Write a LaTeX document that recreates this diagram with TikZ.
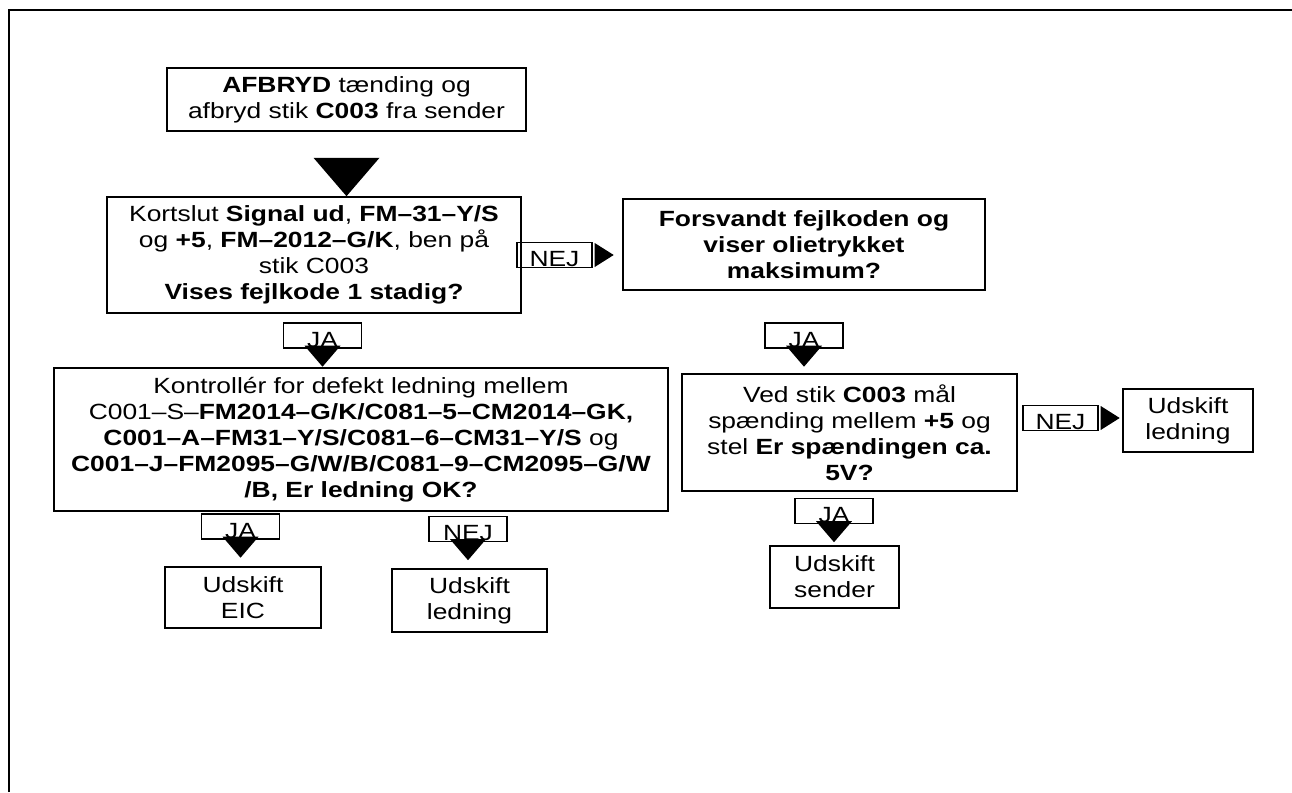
\documentclass[tikz,border=0pt]{standalone}
\usepackage{fontspec}
\setmainfont{Liberation Sans}[FakeStretch=1.2]
\usetikzlibrary{positioning, calc}
\tikzset{
  box/.style 2 args={draw, line width=1.6pt, align=center, inner sep=0pt,
    minimum width=#1, minimum height=#2},
  tag/.style={draw, line width=1.4pt, minimum width=78pt, minimum height=25pt,
    inner xsep=0pt, inner ysep=1pt, text height=23pt, text depth=0pt},
  tri/.style={fill=black},
}

\begin{document}
\begin{tikzpicture}[x=1pt, y=-1pt, font=\fontsize{22}{26}\selectfont]
    \useasboundingbox (0,0) rectangle (1292,792);
    % frame
    \draw[line width=1.6pt] (9,792) -- (9,10) -- (1292,10);

    % steps
    \node[box={359}{63}] (afbryd) at (346.5,99.5)
      {\textbf{AFBRYD} tænding og\\afbryd stik \textbf{C003} fra sender};
    \node[box={414}{116}] (kortslut) at (314,255)
      {Kortslut \textbf{Signal ud}, \textbf{FM–31–Y/S}\\og \textbf{+5}, \textbf{FM–2012–G/K}, ben på\\stik C003\\\textbf{Vises fejlkode 1 stadig?}};
    \node[box={362}{91}, font=\fontsize{22}{26}\selectfont\bfseries] (forsvandt) at (804,244.5)
      {Forsvandt fejlkoden og\\viser olietrykket\\maksimum?};
    \node[box={614}{143}] (kontrol) at (361,439.5)
      {Kontrollér for defekt ledning mellem\\C001–S–\textbf{FM2014–G/K/C081–5–CM2014–GK,}\\\textbf{C001–A–FM31–Y/S/C081–6–CM31–Y/S} og\\\textbf{C001–J–FM2095–G/W/B/C081–9–CM2095–G/W}\\\textbf{/B, Er ledning OK?}};
    \node[box={335}{117}] (vedstik) at (849.5,432.5)
      {Ved stik \textbf{C003} mål\\spænding mellem \textbf{+5} og\\stel \textbf{Er spændingen ca.}\\\textbf{5V?}};
    \node[box={156}{61}] (eic) at (243,597.5) {Udskift\\EIC};
    \node[box={155}{63}] (ledningA) at (469.5,600.5) {Udskift\\ledning};
    \node[box={129}{62}] (sender) at (834.5,577) {Udskift\\sender};
    \node[box={130}{63}] (ledningB) at (1188,420.5) {Udskift\\ledning};

    % answers
    \node[tag, minimum width=75pt] (nej1) at (554.5,255) {NEJ};
    \node[tag] (ja1) at (322.5,335.5) {JA};
    \node[tag] (ja2) at (804,335.5) {JA};
    \node[tag] (ja3) at (240.5,526.5) {JA};
    \node[tag] (nej2) at (468,529) {NEJ};
    \node[tag] (ja4) at (834,511) {JA};
    \node[tag, minimum width=75pt] (nej3) at (1060.5,418) {NEJ};

    % arrows
    \fill[tri] ([xshift=-33pt,yshift=-26pt]afbryd.south) -- ([xshift=33pt,yshift=-26pt]afbryd.south)
      -- (afbryd.south |- kortslut.north) -- cycle;
    \foreach \a/\b in {ja1/kontrol, ja2/vedstik, ja3/eic, nej2/ledningA, ja4/sender}
      \fill[tri] ([xshift=-18pt,yshift=3pt]\a.south) -- ([xshift=18pt,yshift=3pt]\a.south)
        -- ($(\a.south)!18pt!(\a.south |- \b.north)$) -- cycle;
    \foreach \a/\b in {nej1/forsvandt, nej3/ledningB}
      \fill[tri] ([xshift=2pt,yshift=12pt]\a.east) -- ([xshift=2pt,yshift=-12pt]\a.east)
        -- ($(\a.east)!21pt!(\a.east -| \b.west)$) -- cycle;
\end{tikzpicture}
\end{document}
